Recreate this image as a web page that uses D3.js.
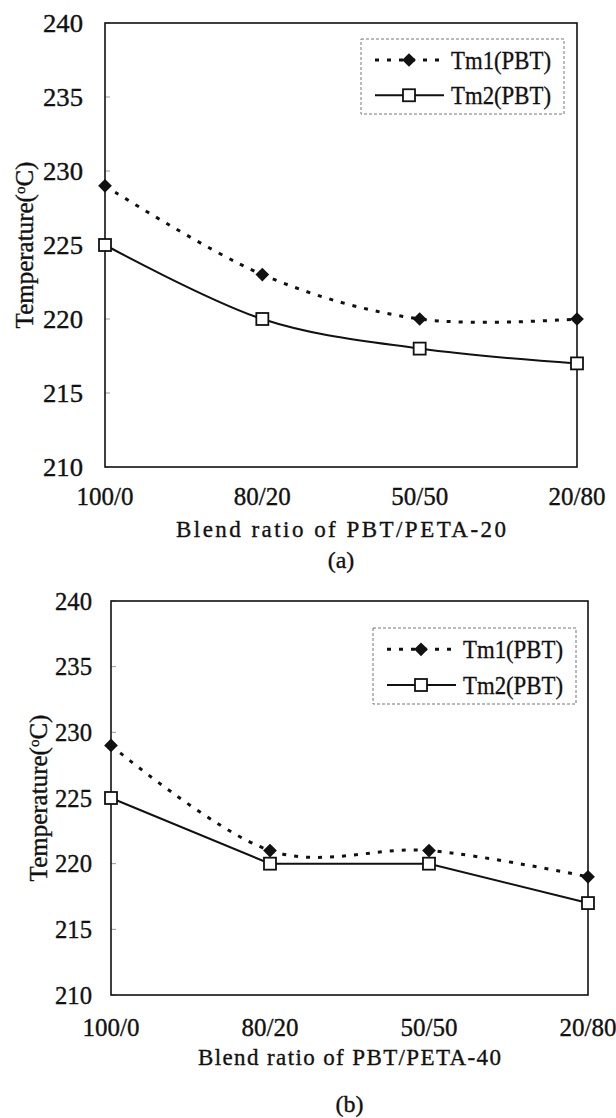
<!DOCTYPE html>
<html>
<head>
<meta charset="utf-8">
<script src="https://cdn.jsdelivr.net/npm/d3@7"></script>
<style>
  body { margin: 0; background: #fff; }
  svg { font-family: "Liberation Serif", "DejaVu Serif", serif; }
  text { fill: #111; stroke: #111; stroke-width: 0.35px; }
</style>
</head>
<body>
<div class="canvas"></div>
<script>
// chart values
const ratios = ['100/0', '80/20', '50/50', '20/80'];
const yTicks = [210, 215, 220, 225, 230, 235, 240];
const seriesNames = ['Tm1(PBT)', 'Tm2(PBT)'];
const tm1A = [229, 223, 220, 220];
const tm2A = [225, 220, 218, 217];
const tm1B = [229, 221, 221, 219];
const tm2B = [225, 220, 220, 217];
const xTitles = ['Blend ratio of PBT/PETA-20', 'Blend ratio of PBT/PETA-40'];
const captions = ['(a)', '(b)'];

const svg = d3.select('.canvas')
  .append('svg')
  .attr('width', 616)
  .attr('height', 1118);

// excel style smoothing
const smooth = d3.curveCardinal.tension(0);

// one panel of the figure
const drawPanel = (p) => {
  const x = d3.scalePoint().domain(ratios).range([p.left, p.right]);
  const y = d3.scaleLinear().domain([210, 240]).range([p.bottom, p.top]);
  const g = svg.append('g');

  // faint inner ticks on the y axis
  g.selectAll('.ytick')
    .data(yTicks)
    .enter().append('line')
      .attr('x1', p.left).attr('x2', p.left + 5)
      .attr('y1', d => y(d)).attr('y2', d => y(d))
      .attr('stroke', '#999').attr('stroke-width', 1);

  g.selectAll('.ylab')
    .data(yTicks)
    .enter().append('text')
      .attr('x', p.tickX)
      .attr('y', d => y(d))
      .attr('dy', '0.35em')
      .attr('text-anchor', 'end')
      .attr('textLength', p.yLabW)
      .attr('lengthAdjust', 'spacingAndGlyphs')
      .style('font-size', p.font + 'px')
      .text(d => d);

  g.selectAll('.xlab')
    .data(ratios)
    .enter().append('text')
      .attr('x', d => x(d))
      .attr('y', p.tickLabelY)
      .attr('dy', '0.35em')
      .attr('text-anchor', 'middle')
      .style('font-size', p.font + 'px')
      .text(d => d);

  // frame
  g.append('rect')
    .attr('x', p.left).attr('y', p.top)
    .attr('width', p.right - p.left).attr('height', p.bottom - p.top)
    .attr('fill', 'none').attr('stroke', '#111').attr('stroke-width', 1.6);

  // y title
  const yt = g.append('text')
    .attr('transform', `translate(${p.titleX}, ${(p.top + p.bottom) / 2}) rotate(-90)`)
    .attr('dy', '0.35em')
    .attr('text-anchor', 'middle')
    .style('font-size', p.font + 'px');
  yt.append('tspan').text('Temperature(');
  yt.append('tspan').text('o').style('font-size', '15px').attr('dy', -8);
  yt.append('tspan').text('C)').attr('dy', 8);

  g.append('text')
    .attr('x', (p.left + p.right) / 2)
    .attr('y', p.xTitleY)
    .attr('dy', '0.35em')
    .attr('text-anchor', 'middle')
    .attr('textLength', p.xTitleW)
    .attr('lengthAdjust', 'spacing')
    .style('font-size', '23px')
    .text(p.xTitle);

  g.append('text')
    .attr('x', (p.left + p.right) / 2)
    .attr('y', p.capY)
    .attr('dy', '0.35em')
    .attr('text-anchor', 'middle')
    .style('font-size', '24px')
    .text(p.caption);

  // lines
  const line1 = d3.line().x((d, i) => x(ratios[i])).y(d => y(d)).curve(smooth);
  const line2 = d3.line().x((d, i) => x(ratios[i])).y(d => y(d)).curve(p.curve2);

  g.append('path')
    .attr('d', line2(p.tm2))
    .attr('fill', 'none').attr('stroke', '#111').attr('stroke-width', 2);
  g.append('path')
    .attr('d', line1(p.tm1))
    .attr('fill', 'none').attr('stroke', '#111').attr('stroke-width', 3)
    .attr('stroke-dasharray', '4,8');

  const diamond = d3.symbol().type(d3.symbolDiamond2).size(120);
  g.selectAll('.m1')
    .data(p.tm1)
    .enter().append('path')
      .attr('d', diamond)
      .attr('transform', (d, i) => `translate(${x(ratios[i])}, ${y(d)})`)
      .attr('fill', '#111');

  g.selectAll('.m2')
    .data(p.tm2)
    .enter().append('rect')
      .attr('x', (d, i) => x(ratios[i]) - 6)
      .attr('y', d => y(d) - 6)
      .attr('width', 12).attr('height', 12)
      .attr('fill', '#fff').attr('stroke', '#111').attr('stroke-width', 1.8);

  // legend
  const L = p.legend;
  const lg = g.append('g').attr('transform', `translate(${L.x}, ${L.y})`);
  lg.append('rect')
    .attr('width', L.w).attr('height', L.h)
    .attr('fill', '#fff').attr('stroke', '#777')
    .attr('stroke-width', 1).attr('stroke-dasharray', '3,2');

  const rows = [L.h * 0.28, L.h * 0.75];
  lg.append('line')
    .attr('x1', 14).attr('x2', 83).attr('y1', rows[0]).attr('y2', rows[0])
    .attr('stroke', '#111').attr('stroke-width', 3).attr('stroke-dasharray', '4,8');
  lg.append('path')
    .attr('d', diamond)
    .attr('transform', `translate(48, ${rows[0]})`)
    .attr('fill', '#111');
  lg.append('line')
    .attr('x1', 14).attr('x2', 83).attr('y1', rows[1]).attr('y2', rows[1])
    .attr('stroke', '#111').attr('stroke-width', 2);
  lg.append('rect')
    .attr('x', 42).attr('y', rows[1] - 6)
    .attr('width', 12).attr('height', 12)
    .attr('fill', '#fff').attr('stroke', '#111').attr('stroke-width', 1.8);

  lg.selectAll('.ltxt')
    .data(seriesNames)
    .enter().append('text')
      .attr('x', 90)
      .attr('y', (d, i) => rows[i])
      .attr('dy', '0.35em')
      .attr('textLength', 100)
      .attr('lengthAdjust', 'spacingAndGlyphs')
      .style('font-size', '26px')
      .text(d => d);
};

drawPanel({
  left: 105, right: 577, top: 23, bottom: 467,
  tickX: 83, yLabW: 40, titleX: 24, tickLabelY: 496, xTitleY: 529, xTitleW: 330, capY: 560,
  font: 25, xTitle: xTitles[0], caption: captions[0],
  tm1: tm1A, tm2: tm2A, curve2: smooth,
  legend: { x: 361, y: 39, w: 203, h: 75 }
});

drawPanel({
  left: 111, right: 588, top: 601, bottom: 995,
  tickX: 92, yLabW: 37, titleX: 38, tickLabelY: 1027, xTitleY: 1057, xTitleW: 303, capY: 1104,
  font: 25, xTitle: xTitles[1], caption: captions[1],
  tm1: tm1B, tm2: tm2B, curve2: d3.curveLinear,
  legend: { x: 373, y: 628, w: 203, h: 76 }
});
</script>
</body>
</html>
